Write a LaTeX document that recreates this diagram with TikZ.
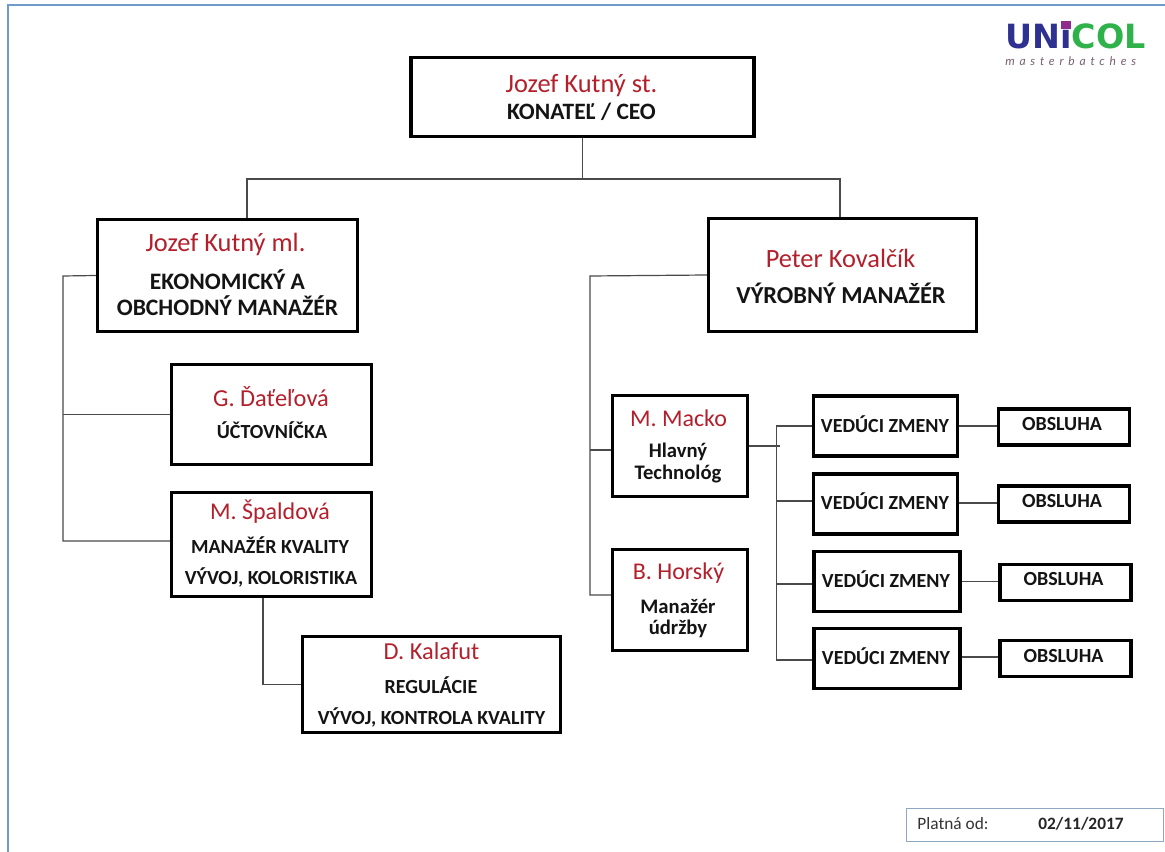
\documentclass[tikz,border=0pt]{standalone}
\usepackage{fontspec}
\setmainfont{Carlito}
\newfontfamily\logofont{DejaVu Sans}
\newfontfamily\subfont[LetterSpace=40]{Lato}
\usetikzlibrary{calc}
\definecolor{namered}{HTML}{B3202C}
\definecolor{framebl}{HTML}{6F9BCB}
\definecolor{stampbl}{HTML}{8FA9C4}
\definecolor{linegr}{HTML}{4A4A4A}
\definecolor{uniblue}{HTML}{2F3191}
\definecolor{unigreen}{HTML}{2FB24A}
\definecolor{unipurple}{HTML}{8E2C8E}
\definecolor{unigrey}{HTML}{7A5F72}
\definecolor{inkblk}{HTML}{141414}
\tikzset{
  bx/.style={draw=black,line width=2.3pt,fill=white,inner sep=0pt},
  nm/.style={text=namered,inner sep=0pt,anchor=center},
  ttl/.style={text=inkblk,font=\bfseries,inner sep=0pt,anchor=center,align=center},
  wire/.style={draw=linegr,line width=0.9pt},
}
\newcommand{\boxat}[5]{\node[bx,minimum width={(#4-2)*0.75pt},minimum height={(#5-2)*0.75pt}] (#1) at (#2,#3) {};}
\begin{document}
\begin{tikzpicture}[x=0.75pt,y=-0.75pt]
\useasboundingbox (0,0) rectangle (1165,852);
\fill[white] (0,0) rectangle (1165,852);
% frame
\coordinate (fa) at (8,852);\coordinate (fb) at (8,5);\coordinate (fc) at (1165,5);
\draw[framebl,line width=1.5pt] (fa) -- (fb) -- (fc);
% boxes
\boxat{ceo}{582.5}{97}{345}{81}
\boxat{ml}{227.5}{275.5}{262}{114}
\boxat{kov}{842.5}{275}{270}{115}
\boxat{dat}{271.5}{414.5}{202}{102}
\boxat{spa}{271.5}{544.5}{202}{106}
\boxat{kal}{431.5}{684.5}{260}{98}
\boxat{mac}{680}{446}{137}{103}
\boxat{hor}{680}{600}{137}{103}
\boxat{v1}{885.5}{426}{146}{62}
\boxat{v2}{885.5}{504}{146}{62}
\boxat{v3}{887}{581.5}{148}{62}
\boxat{v4}{887}{658.5}{148}{62}
\boxat{o1}{1064}{427}{133}{38}
\boxat{o2}{1064}{504}{133}{38}
\boxat{o3}{1065.5}{582.5}{133}{38}
\boxat{o4}{1065.5}{658.5}{133}{38}
% junctions
\coordinate (topbus) at (582.5,179);
\coordinate (busl) at (63,276);
\coordinate (busr) at (590,276);
\coordinate (bust) at (776.5,446);
\coordinate (drop) at (263,597);
\coordinate (mltop) at (247,179);
\coordinate (kovtop) at (840,179);
% connectors
\draw[wire] (ceo.south) -- (topbus);
\draw[wire] (mltop |- ml.north) -- (mltop) -- (kovtop) -- (kovtop |- kov.north);
\draw[wire] (ml.west) -- (busl) -- (busl |- 0,541) -- (spa.west |- 0,541);
\draw[wire] (busl |- dat.west) -- (dat.west);
\draw[wire] (drop |- spa.south) -- (drop |- kal.west) -- (kal.west);
\draw[wire] (kov.west) -- (busr) -- (busr |- 0,595) -- (hor.west |- 0,595);
\draw[wire] (busr |- 0,450) -- (mac.west |- 0,450);
\draw[wire] (mac.east) -- ($(bust)+(3,0)$);
\draw[wire] (v1.west) -- (bust |- v1.west) -- (bust |- 0,660) -- (v4.west |- 0,660);
\draw[wire] (bust |- 0,501) -- (v2.west |- 0,501);
\draw[wire] (bust |- 0,584) -- (v3.west |- 0,584);
\draw[wire] (v1.east) -- (o1.west |- v1.east);
\draw[wire] (v2.east |- 0,503) -- (o2.west |- 0,503);
\draw[wire] (v3.east) -- (o3.west |- v3.east);
\draw[wire] (v4.east |- 0,657) -- (o4.west |- 0,657);
% texts
\node[nm,font=\fontsize{19.8}{22}\selectfont] (t1) at (581.5,86) {Jozef Kutný st.};
\node[ttl,font=\fontsize{17.6}{20}\selectfont\bfseries] (t2) at (581.5,112) {KONATEĽ / CEO};
\node[nm,font=\fontsize{19.8}{22}\selectfont] (t3) at (225.5,244) {Jozef Kutný ml.};
\node[ttl,font=\fontsize{17.7}{19.5}\selectfont\bfseries] (t4) at (227.5,292.5) {EKONOMICKÝ A\\OBCHODNÝ MANAŽÉR};
\node[nm,font=\fontsize{19.8}{22}\selectfont] (t5) at (840.5,258) {Peter Kovalčík};
\node[ttl,font=\fontsize{18.3}{20}\selectfont\bfseries] (t6) at (841,293) {VÝROBNÝ MANAŽÉR};
\node[nm,font=\fontsize{18.3}{20}\selectfont] (t7) at (271,397) {G. Ďaťeľová};
\node[ttl,font=\fontsize{15}{18}\selectfont\bfseries] (t8) at (272,430) {ÚČTOVNÍČKA};
\node[nm,font=\fontsize{18}{20}\selectfont] (t9) at (270,512) {M. Špaldová};
\node[ttl,font=\fontsize{15}{18}\selectfont\bfseries] (t10) at (270,545) {MANAŽÉR KVALITY};
\node[ttl,font=\fontsize{15}{18}\selectfont\bfseries] (t11) at (271,577) {VÝVOJ, KOLORISTIKA};
\node[nm,font=\fontsize{18.3}{20}\selectfont] (t12) at (431.5,651) {D. Kalafut};
\node[ttl,font=\fontsize{15}{18}\selectfont\bfseries] (t13) at (431,685) {REGULÁCIE};
\node[ttl,font=\fontsize{15}{18}\selectfont\bfseries] (t14) at (431.5,717) {VÝVOJ, KONTROLA KVALITY};
\node[nm,font=\fontsize{18}{20}\selectfont] (t15) at (678.5,418) {M. Macko};
\node[ttl,font=\fontsize{15.5}{16}\selectfont\bfseries] (t16) at (678,463) {Hlavný\\Technológ};
\node[nm,font=\fontsize{18}{20}\selectfont] (t17) at (678.5,573) {B. Horský};
\node[ttl,font=\fontsize{15.5}{16}\selectfont\bfseries] (t18) at (678,618.5) {Manažér\\údržby};
\foreach \n/\x/\y in {a/885/424.5,b/885/501,c/886/579,d/886/656}
  \node[ttl,font=\fontsize{15}{18}\selectfont\bfseries] (ve\n) at (\x,\y) {VEDÚCI ZMENY};
\foreach \n/\x/\y in {a/1062/424,b/1062/501,c/1063.5/579,d/1063.5/656}
  \node[ttl,font=\fontsize{15}{18}\selectfont\bfseries] (ob\n) at (\x,\y) {OBSLUHA};
% stamp
\node[draw=stampbl,line width=0.6pt,minimum width=257*0.75pt,minimum height=33*0.75pt,inner sep=0pt] (stamp) at (1034.5,824.5) {};
\node[inner sep=0pt,font=\fontsize{13}{15}\selectfont,text=black!80] (pl) at (953,824) {Platná od:};
\node[inner sep=0pt,font=\fontsize{13}{15}\selectfont\bfseries,text=black!85] (dt) at (1081,824) {02/11/2017};
% logo
\node[inner sep=0pt,anchor=base west,font=\logofont\fontsize{25}{26}\selectfont\bfseries] (lg) at (1005,49)
  {\textcolor{uniblue}{UNi}\textcolor{unigreen}{COL}};
\fill[unipurple] (1061,21) rectangle (1071,29);
\node[inner sep=0pt,anchor=base west,font=\subfont\itshape\fontsize{9}{10}\selectfont,text=unigrey] (sb) at (1005,66) {masterbatches};
\end{tikzpicture}
\end{document}
